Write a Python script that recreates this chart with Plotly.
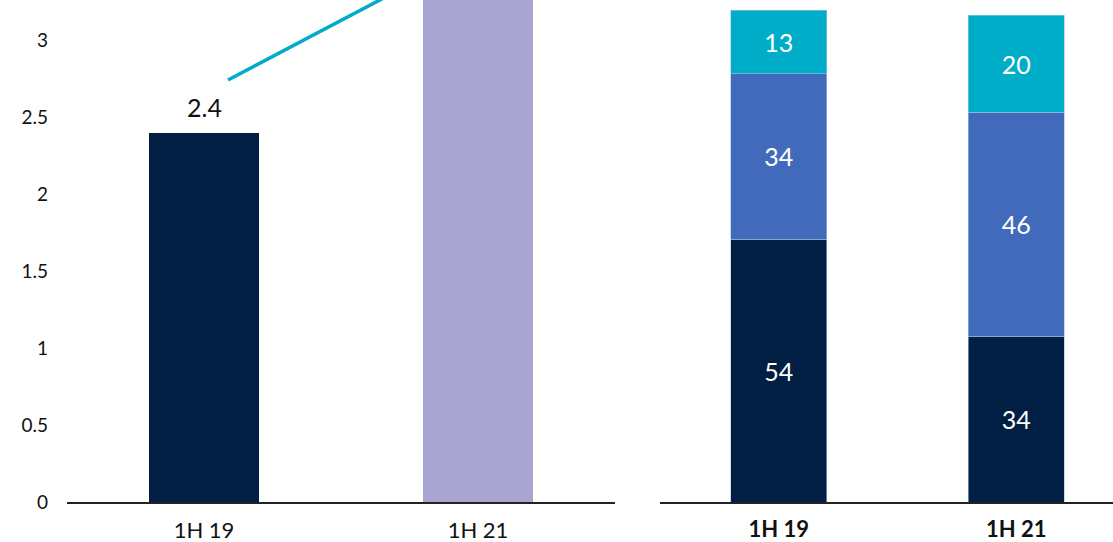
import plotly.graph_objects as go

# Left panel data
left_categories = ["1H 19", "1H 21"]
left_values = [2.4, 3.8]
left_labels = ["2.4", ""]
left_colors = ["#001F42", "#A9A5D3"]

# Connector line (from the 2.4 label towards the 1H 21 label)
connector_x = [0.0876, 0.9]
connector_y = [2.745, 3.507]

# Right panel data (stacked shares)
right_categories = ["1H 19", "1H 21"]
seg_bottom = [54, 34]
seg_middle = [34, 46]
seg_top = [13, 20]

left_ticks = [0, 0.5, 1, 1.5, 2, 2.5, 3]
left_tick_text = ["0", "0.5", "1", "1.5", "2", "2.5", "3"]

FONT = "Lato"
W, H = 1113, 542

fig = go.Figure()

fig.add_trace(go.Bar(
    x=[0, 1], y=left_values, marker=dict(color=left_colors, line=dict(width=0)),
    width=0.4, xaxis="x", yaxis="y", showlegend=False, hoverinfo="skip"))

for i, lab in enumerate(left_labels):
    if lab:
        fig.add_annotation(x=i, y=left_values[i], xref="x", yref="y", text=lab,
                           showarrow=False, yanchor="bottom", yshift=9,
                           font=dict(size=25, color="#111111", family=FONT))

fig.add_trace(go.Scatter(
    x=connector_x, y=connector_y, mode="lines",
    line=dict(color="#00ACC8", width=3.5),
    xaxis="x", yaxis="y", showlegend=False, hoverinfo="skip"))

for vals, col in [(seg_bottom, "#001F42"), (seg_middle, "#416BBA"), (seg_top, "#00ADC8")]:
    fig.add_trace(go.Bar(
        x=[0, 1], y=vals, marker=dict(color=col, line=dict(color="#9FC3E6", width=0.6)),
        width=0.404, text=[str(v) for v in vals], textposition="inside",
        insidetextanchor="middle", textangle=0,
        textfont=dict(size=25, color="white", family=FONT),
        xaxis="x2", yaxis="y2", showlegend=False, hoverinfo="skip"))

fig.update_layout(
    width=W, height=H, barmode="stack",
    margin=dict(l=0, r=0, t=0, b=40, autoexpand=False),
    paper_bgcolor="white", plot_bgcolor="white",
    font=dict(family=FONT, color="#111111"),
    xaxis=dict(domain=[67 / W, 615 / W], range=[-0.5, 1.5], tickvals=[0, 1],
               ticktext=left_categories, showgrid=False, zeroline=False,
               showline=True, linecolor="#222222", linewidth=1.5,
               ticks="", ticklabelstandoff=8, automargin=False,
               tickfont=dict(size=22, color="#111111", family=FONT)),
    yaxis=dict(domain=[0, 1], range=[0, 3.265], tickvals=left_ticks,
               ticktext=left_tick_text, showgrid=False, zeroline=False,
               showline=False, ticks="", ticklabelstandoff=18, automargin=False,
               tickfont=dict(size=19, color="#111111", family=FONT)),
    xaxis2=dict(domain=[660 / W, 1], range=[-0.5, 1.407], tickvals=[0, 1],
                ticktext=["<b>" + c + "</b>" for c in right_categories],
                showgrid=False, zeroline=False, showline=True,
                linecolor="#222222", linewidth=1.5, ticks="",
                ticklabelstandoff=7, automargin=False,
                tickfont=dict(size=22, color="#111111", family=FONT)),
    yaxis2=dict(domain=[0, 1], range=[0, 103.1], anchor="x2", visible=False),
)

fig.write_html("out.html", config={"displayModeBar": False},
               post_script="document.body.style.margin='0';")
